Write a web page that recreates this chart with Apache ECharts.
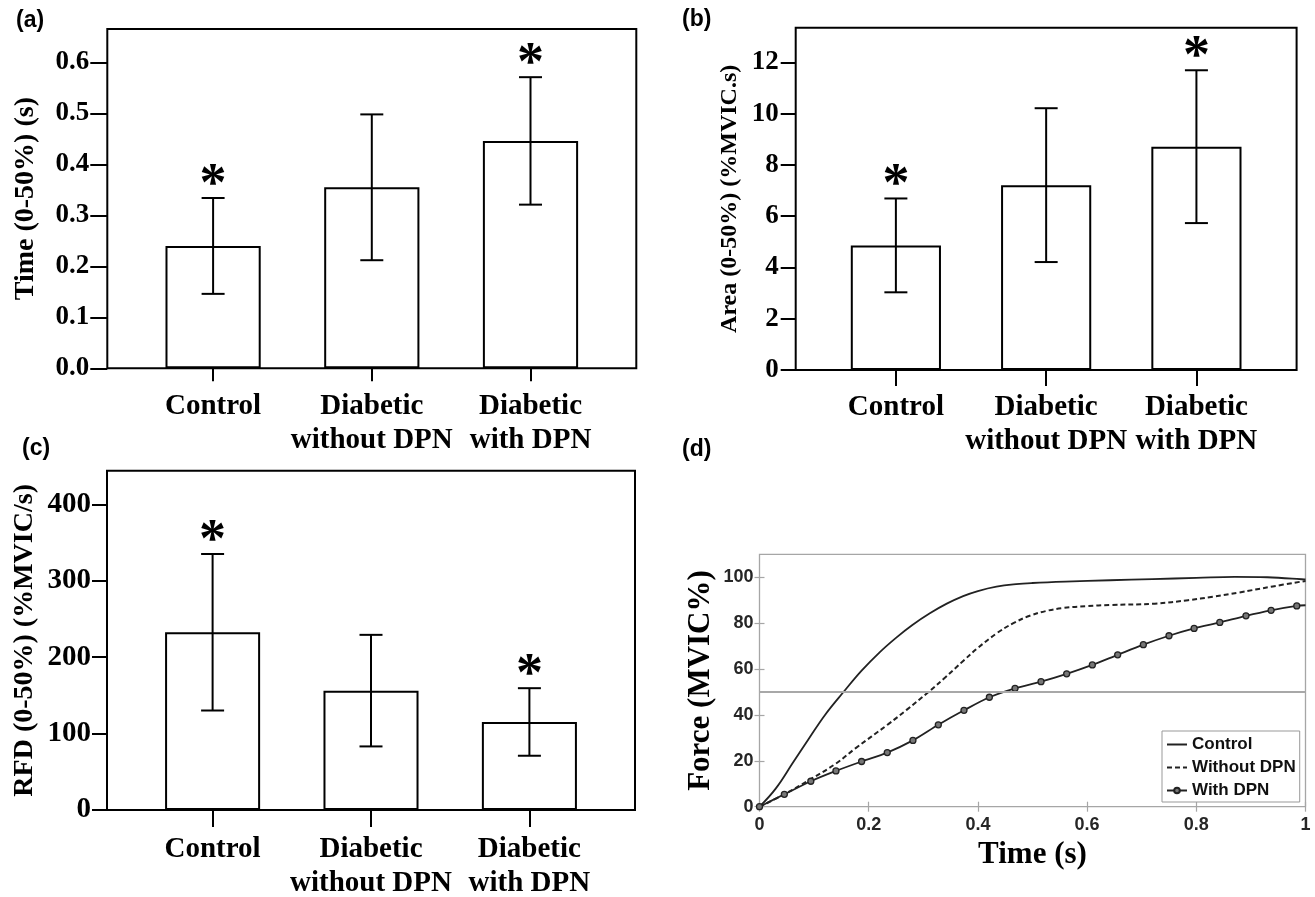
<!DOCTYPE html>
<html><head><meta charset="utf-8">
<script src="https://cdn.jsdelivr.net/npm/echarts@6/dist/echarts.min.js"></script>
<style>html,body{margin:0;padding:0;background:#fff}#c{width:1315px;height:897px}</style>
</head><body><div id="c"></div>
<script>
// ---------- data ----------
const categories = ['Control', 'Diabetic\nwithout DPN', 'Diabetic\nwith DPN'];

const timeMean = [0.240, 0.355, 0.446];
const timeSD   = [0.094, 0.143, 0.125];
const timeStar = [true, false, true];
const timeTicks = [0, 0.1, 0.2, 0.3, 0.4, 0.5, 0.6];

const areaMean = [4.86, 7.21, 8.71];
const areaSD   = [1.83, 3.00, 2.98];
const areaStar = [true, false, true];
const areaTicks = [0, 2, 4, 6, 8, 10, 12];

const rfdMean = [232.6, 156.2, 115.2];
const rfdSD   = [102.4, 73.0, 44.2];
const rfdStar = [true, false, true];
const rfdTicks = [0, 100, 200, 300, 400];

const controlT = [0, 0.03, 0.062, 0.09, 0.12, 0.155, 0.187, 0.22, 0.25, 0.28, 0.312, 0.343, 0.373, 0.40, 0.434, 0.47, 0.50, 0.56, 0.642, 0.72, 0.80, 0.87, 0.93, 1.0];
const controlF = [0, 8, 19.5, 29.5, 40, 50.3, 59.3, 67.3, 73.6, 79.2, 84.3, 88.5, 91.8, 94.0, 95.9, 97.0, 97.5, 98.1, 98.7, 99.2, 99.7, 100.2, 100, 99];

const withoutT = [0, 0.046, 0.096, 0.14, 0.175, 0.236, 0.27, 0.312, 0.34, 0.373, 0.40, 0.434, 0.465, 0.495, 0.525, 0.556, 0.60, 0.642, 0.724, 0.785, 0.83, 0.877, 0.94, 1.0];
const withoutF = [0, 5.5, 12.3, 18.8, 25.3, 36.0, 42.3, 50.5, 56.3, 63.5, 69.2, 75.5, 80.0, 83.2, 85.3, 86.6, 87.4, 87.9, 88.5, 90, 91.5, 93.3, 96, 98.4];

const withT = [0, 0.0455, 0.094, 0.140, 0.187, 0.234, 0.281, 0.3275, 0.3745, 0.421, 0.468, 0.5156, 0.5626, 0.6096, 0.656, 0.703, 0.750, 0.796, 0.843, 0.891, 0.937, 0.984, 1.0];
const withF = [0, 5.4, 11.1, 15.6, 19.7, 23.6, 28.9, 35.7, 42.0, 47.7, 51.6, 54.5, 57.9, 61.8, 66.2, 70.6, 74.5, 77.7, 80.3, 83.2, 85.6, 87.5, 87.8];

const threshold = 50;
const forceTicks = [0, 20, 40, 60, 80, 100];

// ---------- helpers ----------
const SERIF = '"Liberation Serif", "Times New Roman", serif';
const SANS = '"Liberation Sans", Arial, sans-serif';

const grids = [], xAxes = [], yAxes = [], series = [];

function barPanel(p) {
  const fi = grids.length;
  grids.push({left: p.left, top: p.top, width: p.width, height: p.height, show: true,
    borderColor: '#000', borderWidth: 2, backgroundColor: 'transparent', containLabel: false, outerBoundsMode: 'none'});
  xAxes.push({gridIndex: fi, type: 'value', min: 0, max: 1, show: false});
  yAxes.push({gridIndex: fi, type: 'value', min: 0, max: p.max,
    axisLine: {show: false},
    axisTick: {show: true, inside: false, length: p.tickLen, lineStyle: {color: '#000', width: 2}, customValues: p.ticks},
    axisLabel: {customValues: p.ticks, formatter: p.fmt, fontSize: p.labelSize, fontWeight: 'bold', fontFamily: SERIF, color: '#000', margin: p.labelMargin},
    splitLine: {show: false},
    name: p.name, nameLocation: 'middle', nameRotate: 90, nameGap: p.nameGap, nameMoveOverlap: false,
    nameTextStyle: {fontSize: p.nameSize, fontWeight: 'bold', fontFamily: SERIF, color: '#000'}});
  const ci = grids.length;
  grids.push({left: p.left + p.width * 0.05, top: p.top, width: p.width * 0.9, height: p.height,
    show: false, containLabel: false, outerBoundsMode: 'none'});
  xAxes.push({gridIndex: ci, type: 'category', data: categories,
    axisLine: {show: false},
    axisTick: {show: true, alignWithLabel: true, inside: false, length: p.catTickLen, lineStyle: {color: '#000', width: 2}},
    axisLabel: {interval: 0, fontSize: 29, fontWeight: 'bold', fontFamily: SERIF, color: '#000', lineHeight: 34, margin: p.catMargin}});
  yAxes.push({gridIndex: ci, type: 'value', min: 0, max: p.max, show: false});
  series.push({type: 'bar', xAxisIndex: ci, yAxisIndex: ci, data: p.mean, barWidth: '60%', silent: true,
    itemStyle: {color: '#fff', borderColor: '#000', borderWidth: 2}});
  series.push({type: 'custom', xAxisIndex: ci, yAxisIndex: ci, z: 5, silent: true,
    data: p.mean.map((m, i) => [i, m - p.sd[i], m + p.sd[i], p.star[i] ? 1 : 0]),
    renderItem(params, api) {
      const i = api.value(0);
      const lo = api.coord([i, api.value(1)]);
      const hi = api.coord([i, api.value(2)]);
      const x = lo[0], hw = 11.5;
      const st = {stroke: '#000', lineWidth: 2};
      const ch = [
        {type: 'line', shape: {x1: x, y1: hi[1], x2: x, y2: lo[1]}, style: st},
        {type: 'line', shape: {x1: x - hw, y1: hi[1], x2: x + hw, y2: hi[1]}, style: st},
        {type: 'line', shape: {x1: x - hw, y1: lo[1], x2: x + hw, y2: lo[1]}, style: st}
      ];
      if (api.value(3)) {
        ch.push({type: 'text', style: {text: '*', x: x, y: hi[1] - 12, align: 'center', verticalAlign: 'middle',
          font: 'bold 54px ' + SERIF, fill: '#000'}});
      }
      return {type: 'group', children: ch};
    }});
}

barPanel({left: 107.3, top: 29, width: 529, height: 339.3, max: 0.6655, ticks: timeTicks,
  fmt: v => v.toFixed(1), labelSize: 27, labelMargin: 18, tickLen: 17,
  name: 'Time (0-50%) (s)', nameSize: 28, nameGap: 68, catTickLen: 13, catMargin: 21,
  mean: timeMean, sd: timeSD, star: timeStar});
barPanel({left: 795.7, top: 27.7, width: 500.9, height: 342.3, max: 13.35, ticks: areaTicks,
  fmt: v => String(v), labelSize: 27, labelMargin: 17, tickLen: 15,
  name: 'Area (0-50%) (%MVIC.s)', nameSize: 24, nameGap: 54, catTickLen: 16, catMargin: 21,
  mean: areaMean, sd: areaSD, star: areaStar});
barPanel({left: 107, top: 470.7, width: 528, height: 339.3, max: 444, ticks: rfdTicks,
  fmt: v => String(v), labelSize: 29, labelMargin: 16, tickLen: 15,
  name: 'RFD (0-50%) (%MVIC/s)', nameSize: 28, nameGap: 68, catTickLen: 17, catMargin: 23,
  mean: rfdMean, sd: rfdSD, star: rfdStar});

// ---------- panel (d) ----------
const dg = grids.length;
const GRAY = '#a6a6a6';
grids.push({left: 759.5, top: 554.3, width: 546, height: 252.4, show: true, borderColor: GRAY, borderWidth: 1.3,
  backgroundColor: '#fff', containLabel: false, outerBoundsMode: 'none'});
const dTick = {show: true, inside: true, length: 5, lineStyle: {color: GRAY, width: 1.2}};
xAxes.push({gridIndex: dg, type: 'value', min: 0, max: 1, interval: 0.2, position: 'bottom',
  axisLine: {show: false}, axisTick: dTick, splitLine: {show: false},
  axisLabel: {fontSize: 18, fontWeight: 'bold', fontFamily: SANS, color: '#262626', margin: 9},
  name: 'Time (s)', nameLocation: 'middle', nameGap: 33, nameMoveOverlap: false,
  nameTextStyle: {fontSize: 31, fontWeight: 'bold', fontFamily: SERIF, color: '#000'}});
xAxes.push({gridIndex: dg, type: 'value', min: 0, max: 1, interval: 0.2, position: 'top',
  axisLine: {show: false}, axisTick: dTick, axisLabel: {show: false}, splitLine: {show: false}});
yAxes.push({gridIndex: dg, type: 'value', min: 0, max: 110, position: 'left',
  axisLine: {show: false}, axisTick: Object.assign({customValues: forceTicks}, dTick), splitLine: {show: false},
  axisLabel: {customValues: forceTicks, fontSize: 18, fontWeight: 'bold', fontFamily: SANS, color: '#262626', margin: 6},
  name: 'Force (MVIC%)', nameLocation: 'middle', nameRotate: 90, nameGap: 43, nameMoveOverlap: false,
  nameTextStyle: {fontSize: 31, fontWeight: 'bold', fontFamily: SERIF, color: '#000'}});
yAxes.push({gridIndex: dg, type: 'value', min: 0, max: 110, position: 'right',
  axisLine: {show: false}, axisTick: Object.assign({customValues: forceTicks}, dTick),
  axisLabel: {show: false, customValues: forceTicks}, splitLine: {show: false}});

const dx = xAxes.length - 2, dy = yAxes.length - 2;
series.push({type: 'line', name: 'Control', xAxisIndex: dx, yAxisIndex: dy, silent: true,
  data: controlT.map((t, i) => [t, controlF[i]]), symbol: 'none', smooth: 0.4,
  itemStyle: {color: '#222'},
  lineStyle: {color: '#222', width: 1.8},
  markLine: {silent: true, symbol: 'none', label: {show: false}, animation: false,
    lineStyle: {color: '#a8a8a8', width: 1.8, type: 'solid'}, data: [{yAxis: threshold}]}});
series.push({type: 'line', name: 'Without DPN', xAxisIndex: dx, yAxisIndex: dy, silent: true,
  data: withoutT.map((t, i) => [t, withoutF[i]]), symbol: 'none', smooth: 0.4,
  itemStyle: {color: '#222'},
  lineStyle: {color: '#222', width: 2, type: [5, 3]}});
series.push({type: 'line', name: 'With DPN', xAxisIndex: dx, yAxisIndex: dy, silent: true,
  data: withT.map((t, i) => i === withT.length - 1 ? {value: [t, withF[i]], symbol: 'none'} : [t, withF[i]]),
  symbol: 'circle', symbolSize: 6, showSymbol: true, smooth: 0.3,
  itemStyle: {color: '#777', borderColor: '#222', borderWidth: 1.3},
  lineStyle: {color: '#222', width: 1.8}});

const chart = echarts.init(document.getElementById('c'), null, {renderer: 'canvas'});
chart.setOption({
  animation: false,
  backgroundColor: '#fff',
  title: [
    {text: '(a)', left: 16, top: 9, padding: 0, textStyle: {fontFamily: SANS, fontWeight: 'bold', fontSize: 23, color: '#000'}},
    {text: '(b)', left: 682, top: 8, padding: 0, textStyle: {fontFamily: SANS, fontWeight: 'bold', fontSize: 23, color: '#000'}},
    {text: '(c)', left: 22, top: 437, padding: 0, textStyle: {fontFamily: SANS, fontWeight: 'bold', fontSize: 23, color: '#000'}},
    {text: '(d)', left: 682, top: 438, padding: 0, textStyle: {fontFamily: SANS, fontWeight: 'bold', fontSize: 23, color: '#000'}}
  ],
  legend: {orient: 'vertical', left: 1162, top: 731, itemWidth: 20, itemHeight: 7, itemGap: 6,
    padding: [5, 4, 3, 4], borderColor: '#999', borderWidth: 1, backgroundColor: '#fff', borderRadius: 0,
    selectedMode: false,
    textStyle: {fontFamily: SANS, fontWeight: 'bold', fontSize: 17, color: '#111'},
    data: [
      {name: 'Control', itemStyle: {opacity: 0}},
      {name: 'Without DPN', itemStyle: {opacity: 0}},
      {name: 'With DPN'}
    ]},
  grid: grids, xAxis: xAxes, yAxis: yAxes, series: series
});
</script></body></html>
